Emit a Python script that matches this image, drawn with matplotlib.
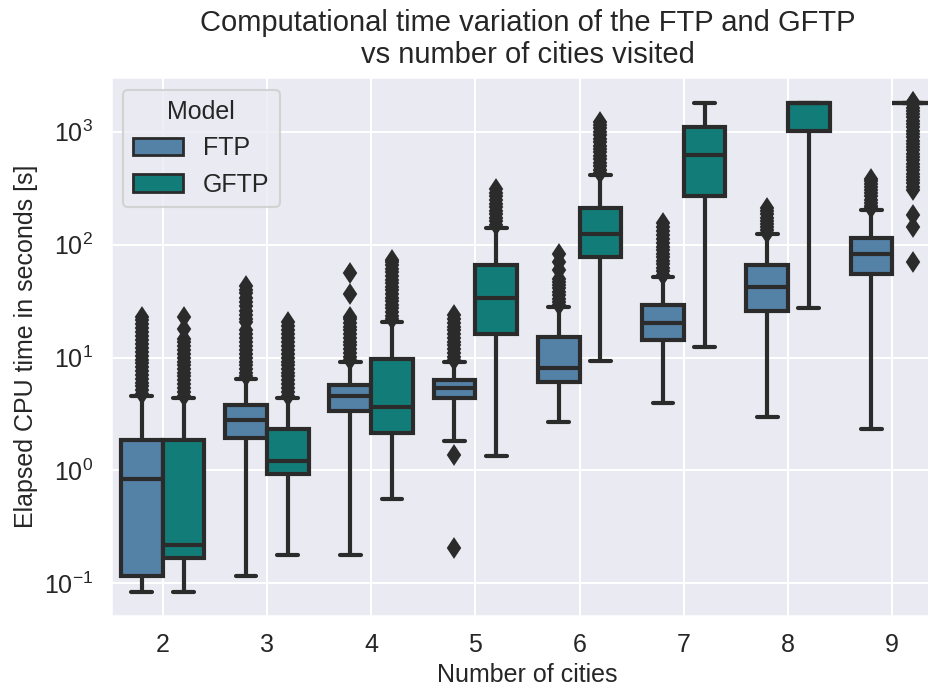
import numpy as np
import matplotlib.pyplot as plt
import seaborn as sns
from matplotlib.patches import Patch

sns.set_theme(style="darkgrid", context="talk")
plt.rcParams['font.family'] = ['Liberation Sans', 'DejaVu Sans']

cities = [2, 3, 4, 5, 6, 7, 8, 9]
models = ["FTP", "GFTP"]
model_colors = ["#5481a6", "#127c78"]
edge = "#2b2b2b"

# box statistics (seconds)
ftp_whislo = [0.084, 0.115, 0.178, 1.82, 2.68, 3.95, 2.98, 2.33]
ftp_q1 = [0.117, 1.95, 3.36, 4.39, 6.03, 14.3, 25.9, 54.7]
ftp_med = [0.84, 2.82, 4.55, 5.42, 8.0, 20.4, 42.5, 83.0]
ftp_q3 = [1.86, 3.81, 5.70, 6.38, 15.1, 29.4, 66.2, 115.0]
ftp_whishi = [4.54, 6.47, 9.08, 9.08, 27.8, 51.4, 123.0, 202.0]
ftp_fliers = [
    [4.8, 5.2, 5.6, 6.0, 6.5, 7.0, 7.6, 8.2, 8.9, 9.6, 10.4, 11.3, 12.2,
     13.2, 14.3, 15.5, 16.8, 18.2, 19.7, 21.3, 22.9],
    [6.8, 7.3, 7.9, 8.5, 9.2, 10.0, 10.8, 11.7, 12.7, 13.8, 15.0, 16.3,
     17.5, 20.5, 22.0, 24.0, 26.0, 28.5, 31.0, 34.0, 37.0, 40.0, 43.4],
    [9.5, 10.2, 11.0, 11.9, 12.8, 13.8, 14.9, 16.1, 17.4, 18.8, 20.3,
     21.8, 23.0, 36.4, 55.5],
    [0.205, 1.37, 9.5, 10.2, 11.0, 11.9, 12.8, 13.8, 14.9, 16.1, 17.4,
     18.8, 20.3, 22.0, 23.8],
    [29.0, 31.0, 33.0, 35.5, 38.0, 41.0, 44.0, 47.0, 50.0, 60.0, 70.0, 81.8],
    [54.0, 58.0, 62.0, 67.0, 72.0, 77.0, 83.0, 89.0, 96.0, 104.0, 112.0,
     121.0, 131.0, 142.0, 154.0],
    [128.0, 135.0, 143.0, 152.0, 162.0, 173.0, 185.0, 198.0, 212.0],
    [210.0, 222.0, 236.0, 251.0, 267.0, 284.0, 302.0, 322.0, 343.0, 365.0,
     385.0],
]

gftp_whislo = [0.083, 0.178, 0.557, 1.33, 9.4, 12.4, 27.4, 1800.0]
gftp_q1 = [0.166, 0.932, 2.13, 16.2, 77.9, 271.0, 1019.0, 1800.0]
gftp_med = [0.22, 1.21, 3.63, 33.9, 123.0, 622.0, 1800.0, 1800.0]
gftp_q3 = [1.86, 2.33, 9.74, 66.2, 212.0, 1094.0, 1800.0, 1800.0]
gftp_whishi = [4.39, 4.39, 20.7, 141.7, 411.0, 1800.0, 1800.0, 1800.0]
gftp_fliers = [
    [4.6, 5.0, 5.4, 5.8, 6.3, 6.8, 7.3, 7.9, 8.5, 9.2, 9.9, 10.7, 11.6,
     12.6, 13.7, 14.5, 18.0, 23.0],
    [4.6, 5.0, 5.4, 5.8, 6.3, 6.8, 7.3, 7.9, 8.5, 9.2, 9.9, 10.7, 11.6,
     12.6, 13.7, 14.9, 16.2, 17.6, 19.1, 20.7],
    [21.8, 23.5, 25.3, 27.2, 29.3, 31.5, 33.9, 36.5, 39.3, 42.3, 45.5,
     49.0, 52.7, 56.7, 61.0, 65.6, 70.0, 73.6],
    [150.0, 161.0, 173.0, 186.0, 200.0, 215.0, 231.0, 248.0, 267.0, 287.0,
     312.0],
    [430.0, 460.0, 495.0, 530.0, 570.0, 610.0, 655.0, 700.0, 750.0, 805.0,
     865.0, 930.0, 1000.0, 1070.0, 1150.0, 1230.0],
    [],
    [],
    [70.6, 144.0, 183.0, 305.0, 325.0, 348.0, 372.0, 398.0, 426.0, 456.0,
     488.0, 522.0, 558.0, 597.0, 639.0, 683.0, 731.0, 782.0, 836.0, 894.0,
     956.0, 1022.0, 1093.0, 1169.0, 1250.0, 1337.0, 1430.0, 1530.0, 1636.0,
     1750.0, 1820.0, 1850.0],
]

series = [
    (ftp_whislo, ftp_q1, ftp_med, ftp_q3, ftp_whishi, ftp_fliers),
    (gftp_whislo, gftp_q1, gftp_med, gftp_q3, gftp_whishi, gftp_fliers),
]

fig = plt.figure(figsize=(9.29, 6.91), dpi=100)
ax = fig.add_axes([0.119, 0.1085, 0.8975, 0.7796])

lw = 3.0
x = np.arange(len(cities))
for j, (wlo, q1, med, q3, whi, fl) in enumerate(series):
    stats = []
    for i in range(len(cities)):
        stats.append(dict(whislo=wlo[i], q1=q1[i], med=med[i], q3=q3[i],
                          whishi=whi[i], fliers=fl[i]))
    ax.bxp(stats, positions=x + (j - 0.5) * 0.4, widths=0.4,
           patch_artist=True, manage_ticks=False,
           boxprops=dict(facecolor=model_colors[j], edgecolor=edge, linewidth=lw),
           medianprops=dict(color=edge, linewidth=lw),
           whiskerprops=dict(color=edge, linewidth=lw),
           capprops=dict(color=edge, linewidth=lw),
           flierprops=dict(marker='d', markerfacecolor=edge, markeredgecolor=edge,
                           markersize=9.5, markeredgewidth=1.5))

ax.set_yscale('log')
ax.set_ylim(0.0513, 3034)
ax.set_xlim(-0.5, 7.5)
ax.set_xticks(x)
ax.set_xticklabels([str(c) for c in cities])
ax.tick_params(axis='both', labelsize=18)

ax.set_xlabel("Number of cities", fontsize=18)
ax.set_ylabel("Elapsed CPU time in seconds [s]", fontsize=18)
ax.set_title("Computational time variation of the FTP and GFTP\nvs number of cities visited",
             fontsize=21, pad=10)

handles = [Patch(facecolor=model_colors[k], edgecolor=edge, linewidth=2.0, label=m)
           for k, m in enumerate(models)]
ax.legend(handles=handles, title="Model", loc="upper left",
          fontsize=18, title_fontsize=18)

fig.savefig("out.png", dpi=100)
